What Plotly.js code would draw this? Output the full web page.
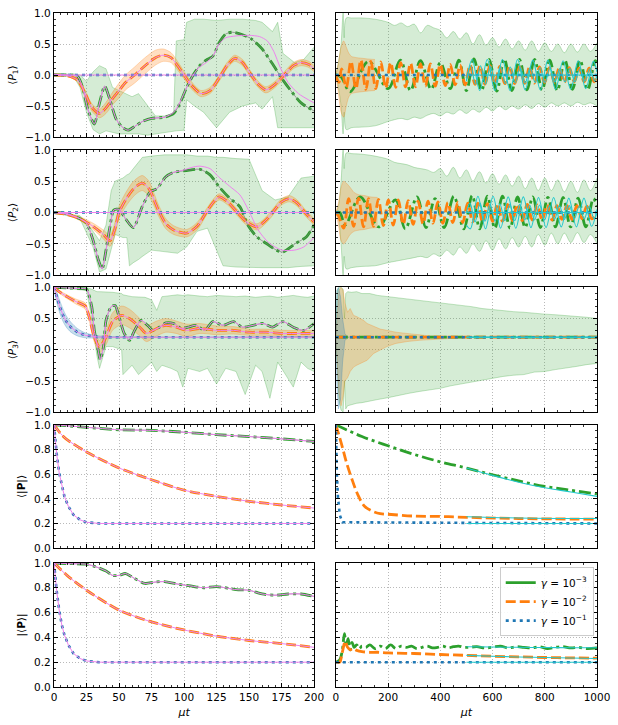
<!DOCTYPE html>
<html>
<head>
<meta charset="utf-8">
<script src="https://cdn.plot.ly/plotly-3.0.1.min.js"></script>
<style>html,body{margin:0;padding:0;background:#fff}</style>
</head>
<body>
<div id="chart" style="width:618px;height:725px"></div>
<script>
// ---------- left column, mu t in [0, 200] ----------
// <P1>
var g1L_t = [0, 10, 18, 22, 26, 31, 35, 39, 43, 48, 53, 57, 62, 68, 75, 85, 92, 97, 102, 107, 112, 117, 122, 127, 132, 137, 145, 152, 160, 168, 175, 182, 190, 200];
var g1L_y = [0, 0, -0.02, -0.2, -0.55, -0.79, -0.45, -0.18, -0.4, -0.72, -0.85, -0.89, -0.83, -0.75, -0.7, -0.68, -0.62, -0.45, -0.2, 0.0, 0.15, 0.24, 0.3, 0.52, 0.66, 0.69, 0.65, 0.58, 0.42, 0.18, -0.05, -0.25, -0.45, -0.58];
var v1L_t = [0, 10, 18, 22, 26, 31, 35, 39, 43, 48, 53, 57, 62, 68, 75, 85, 92, 97, 102, 107, 112, 117, 122, 127, 132, 140, 150, 158, 164, 169, 174, 180, 188, 200];
var v1L_y = [0, 0, -0.02, -0.2, -0.55, -0.79, -0.45, -0.18, -0.4, -0.72, -0.85, -0.89, -0.83, -0.75, -0.7, -0.68, -0.6, -0.43, -0.2, 0.0, 0.13, 0.2, 0.3, 0.5, 0.6, 0.63, 0.64, 0.62, 0.55, 0.38, 0.12, -0.12, -0.3, -0.45];
var o1L_t = [0, 10, 18, 24, 29, 35, 40, 45, 50, 55, 62, 70, 78, 84, 90, 95, 100, 105, 113, 120, 127, 133, 139, 145, 150, 157, 163, 170, 177, 184, 190, 196, 200];
var o1L_y = [0, -0.01, -0.08, -0.3, -0.52, -0.62, -0.53, -0.38, -0.25, -0.12, 0.0, 0.15, 0.28, 0.32, 0.28, 0.15, 0.0, -0.15, -0.3, -0.25, -0.05, 0.15, 0.27, 0.2, 0.05, -0.15, -0.24, -0.15, 0.0, 0.15, 0.2, 0.17, 0.1];
var o1L_s = [0, 0.01, 0.03, 0.05, 0.06, 0.07, 0.09, 0.1, 0.12, 0.12, 0.13, 0.13, 0.12, 0.1, 0.08, 0.07, 0.06, 0.06, 0.05, 0.05, 0.05, 0.05, 0.05, 0.05, 0.05, 0.05, 0.05, 0.05, 0.05, 0.05, 0.05, 0.05, 0.05];
var gb1L_t = [0, 15, 20, 25, 30, 35, 40, 45, 50, 60, 65, 72, 78, 85, 92, 94, 100, 102, 108, 115, 125, 135, 145, 155, 160, 168, 172, 176, 185, 192, 200];
var gb1L_up = [0, 0.02, 0.0, -0.1, 0.05, 0.15, 0.1, -0.2, -0.25, -0.35, -0.3, -0.5, -0.66, -0.66, -0.62, 0.55, 0.57, 0.85, 0.9, 0.9, 0.88, 0.9, 0.9, 0.88, 0.85, 0.7, 0.85, 0.35, 0.2, 0.25, 0.45];
var gb1L_lo = [0, -0.02, -0.2, -0.6, -0.88, -0.95, -0.9, -0.92, -0.95, -0.95, -0.95, -0.97, -0.95, -0.92, -0.9, -0.9, -0.89, -0.4, -0.5, -0.6, -0.85, -0.6, -0.5, -0.45, -0.55, -0.35, -0.85, -0.85, -0.85, -0.85, -0.85];
var zeroL_t = [0, 200];
var zeroL_y = [0, 0];

// <P2>
var g2L_t = [0, 10, 20, 25, 30, 34, 37, 40, 43, 46, 50, 55, 61, 68, 74, 79, 86, 92, 102, 112, 120, 127, 135, 143, 149, 156, 163, 171, 176, 186, 194, 200];
var g2L_y = [0, -0.02, -0.1, -0.17, -0.44, -0.75, -0.9, -0.6, -0.23, 0.04, 0.05, -0.1, -0.24, 0.1, 0.33, 0.38, 0.57, 0.64, 0.67, 0.69, 0.6, 0.41, 0.23, 0.09, -0.2, -0.39, -0.49, -0.6, -0.63, -0.49, -0.39, -0.2];
var v2L_t = [0, 10, 20, 25, 30, 34, 37, 40, 43, 46, 50, 55, 61, 68, 74, 79, 86, 92, 100, 106, 112, 120, 127, 135, 143, 150, 157, 165, 175, 185, 192, 200];
var v2L_y = [0, -0.02, -0.1, -0.17, -0.44, -0.75, -0.9, -0.6, -0.23, 0.04, 0.05, -0.1, -0.24, 0.1, 0.33, 0.38, 0.57, 0.64, 0.68, 0.72, 0.74, 0.7, 0.56, 0.42, 0.28, 0.02, -0.28, -0.48, -0.6, -0.6, -0.55, -0.4];
var o2L_t = [0, 10, 20, 30, 38, 43, 47, 50, 55, 60, 64, 68, 73, 77, 80, 86, 92, 102, 110, 117, 122, 127, 133, 141, 148, 156, 163, 168, 175, 181, 187, 193, 200];
var o2L_y = [0, -0.03, -0.1, -0.22, -0.35, -0.45, -0.25, 0.0, 0.2, 0.35, 0.43, 0.47, 0.38, 0.2, 0.05, -0.18, -0.28, -0.33, -0.22, 0.0, 0.15, 0.25, 0.18, 0.0, -0.15, -0.23, -0.12, 0.0, 0.17, 0.22, 0.15, 0.0, -0.15];
var o2L_s = [0, 0.01, 0.03, 0.05, 0.07, 0.09, 0.1, 0.1, 0.11, 0.12, 0.12, 0.12, 0.12, 0.1, 0.09, 0.08, 0.07, 0.06, 0.06, 0.05, 0.05, 0.05, 0.05, 0.05, 0.05, 0.05, 0.05, 0.05, 0.05, 0.05, 0.05, 0.05, 0.05];
var gb2L_t = [0, 20, 30, 35, 40, 44, 47, 53, 56, 58, 61, 65, 68, 75, 85, 95, 102, 110, 118, 125, 130, 140, 150, 155, 160, 170, 180, 190, 200];
var gb2L_up = [0, -0.05, -0.3, -0.45, -0.2, 0.35, 0.5, 0.55, 0.6, 0.62, 0.7, 0.8, 0.88, 0.9, 0.92, 0.92, 0.92, 0.9, 0.9, 0.88, 0.88, 0.86, 0.85, 0.6, 0.35, 0.2, 0.25, 0.55, 0.58];
var gb2L_lo = [0, -0.1, -0.55, -0.95, -0.9, -0.6, -0.35, -0.4, -0.4, -0.85, -0.8, -0.75, -0.7, -0.6, -0.62, -0.65, -0.55, -0.3, -0.25, -0.6, -0.85, -0.87, -0.88, -0.88, -0.88, -0.88, -0.88, -0.86, -0.85];

// <P3>
var g3L_t = [0, 10, 20, 25, 29, 31, 34, 35.5, 38, 40, 44, 47, 50, 54, 58, 62, 67, 72, 76, 81, 86, 92, 98, 103, 109, 116, 122, 130, 138, 145, 153, 161, 168, 176, 184, 192, 200];
var g3L_y = [1.0, 0.99, 0.98, 0.97, 0.69, 0.31, -0.01, -0.16, 0.04, 0.47, 0.69, 0.71, 0.53, 0.26, 0.15, 0.31, 0.47, 0.39, 0.31, 0.36, 0.43, 0.42, 0.34, 0.36, 0.39, 0.31, 0.45, 0.39, 0.45, 0.36, 0.39, 0.42, 0.36, 0.45, 0.36, 0.31, 0.42];
var o3L_t = [0, 4, 10, 17, 24, 27, 31, 35, 40, 45, 52, 58, 66, 71, 79, 86, 94, 102, 112, 125, 138, 150, 163, 176, 189, 200];
var o3L_y = [1.0, 0.93, 0.85, 0.77, 0.7, 0.53, 0.2, 0.05, 0.2, 0.45, 0.55, 0.5, 0.36, 0.26, 0.34, 0.39, 0.36, 0.31, 0.34, 0.31, 0.31, 0.28, 0.28, 0.26, 0.26, 0.26];
var o3L_s = [0, 0.02, 0.03, 0.04, 0.05, 0.06, 0.08, 0.1, 0.12, 0.14, 0.15, 0.15, 0.14, 0.13, 0.12, 0.11, 0.1, 0.1, 0.08, 0.07, 0.06, 0.05, 0.05, 0.05, 0.05, 0.05];
var b3L_t = [0, 2, 4.4, 7, 9.5, 13, 18, 24, 33, 45, 200];
var b3L_y = [1.0, 0.85, 0.69, 0.55, 0.45, 0.36, 0.28, 0.23, 0.205, 0.2, 0.2];
var b3L_s = [0, 0.08, 0.1, 0.1, 0.09, 0.08, 0.06, 0.04, 0.02, 0.01, 0.01];
var gb3L_t = [0, 25, 29, 33, 35, 38, 40, 45, 52, 53, 60, 65, 70, 75, 79, 83, 90, 95, 99, 103, 112, 118, 125, 132, 140, 147, 155, 160, 166, 172, 178, 184, 190, 195, 200];
var gb3L_up = [1.0, 1.0, 0.97, 0.93, 0.93, 0.93, 0.93, 0.92, 0.9, 0.88, 0.85, 0.85, 0.84, 0.8, 0.63, 0.85, 0.87, 0.88, 0.87, 0.88, 0.86, 0.85, 0.87, 0.86, 0.85, 0.86, 0.84, 0.85, 0.86, 0.84, 0.85, 0.87, 0.85, 0.84, 0.86];
var gb3L_lo = [1.0, 0.95, 0.5, -0.1, -0.3, -0.1, 0.05, 0.05, 0.0, -0.4, -0.25, -0.4, -0.3, -0.2, -0.35, -0.25, -0.3, -0.35, -0.6, -0.3, -0.35, -0.3, -0.55, -0.3, -0.35, -0.72, -0.25, -0.35, -0.78, -0.2, -0.4, -0.6, -0.2, -0.3, -0.35];

// <|P|>
var g4L_t = [0, 25, 50, 75, 100, 125, 150, 175, 200];
var g4L_y = [1.0, 0.98, 0.96, 0.955, 0.94, 0.92, 0.905, 0.886, 0.865];
var o4L_t = [0, 5, 10, 25, 50, 75, 100, 125, 150, 175, 200];
var o4L_y = [1.0, 0.93, 0.88, 0.78, 0.65, 0.555, 0.47, 0.42, 0.38, 0.35, 0.325];
var b4L_t = [0, 1, 2, 4, 6, 8, 11, 15, 20, 25, 35, 200];
var b4L_y = [1.0, 0.88, 0.77, 0.61, 0.5, 0.42, 0.34, 0.27, 0.23, 0.21, 0.2, 0.2];

// |<P>|
var g5L_t = [0, 10, 25, 32, 40, 45, 50, 55, 62, 70, 77, 85, 95, 105, 115, 125, 140, 150, 160, 170, 180, 190, 200];
var g5L_y = [1.0, 0.995, 0.99, 0.97, 0.935, 0.9, 0.9, 0.915, 0.875, 0.835, 0.845, 0.85, 0.83, 0.815, 0.8, 0.81, 0.785, 0.78, 0.75, 0.74, 0.75, 0.75, 0.73];
var o5L_t = [0, 10, 25, 50, 75, 100, 125, 150, 175, 200];
var o5L_y = [1.0, 0.9, 0.78, 0.62, 0.525, 0.46, 0.41, 0.375, 0.35, 0.32];
var b5L_t = [0, 1, 2, 4, 6, 8, 11, 15, 20, 25, 35, 200];
var b5L_y = [1.0, 0.87, 0.78, 0.62, 0.5, 0.42, 0.34, 0.27, 0.23, 0.21, 0.2, 0.2];

// ---------- right column, mu t in [0, 1000] ----------
// <P1>
var g1R_t = [0, 20, 55, 125, 200, 247, 286, 324, 365, 400, 438, 471, 500, 529, 558, 587, 616, 645, 674, 703, 732, 761, 790, 819, 848, 877, 906, 935, 964, 993, 1000];
var g1R_y = [0, -0.03, -0.27, 0.22, -0.22, 0.24, -0.25, 0.23, -0.23, 0.2, -0.22, 0.24, -0.25, 0.26, -0.25, 0.25, -0.26, 0.26, -0.25, 0.25, -0.24, 0.25, -0.24, 0.24, -0.25, 0.24, -0.23, 0.24, -0.24, 0.23, 0.2];
var c1gR_t = [500, 522, 551, 580, 609, 638, 667, 696, 725, 754, 783, 812, 841, 870, 899, 928, 957, 986, 1000];
var c1gR_y = [-0.1, 0.25, -0.25, 0.25, -0.25, 0.25, -0.25, 0.25, -0.24, 0.24, -0.24, 0.24, -0.23, 0.23, -0.23, 0.23, -0.22, 0.22, 0.05];
var o1R_t = [0, 12, 22, 40, 58, 77, 96, 115, 134, 153, 172, 191, 210, 229, 248, 267, 286, 305, 324, 343, 362, 381, 400, 419, 438, 457, 476, 495, 514, 533, 552, 571, 590, 609, 628, 647, 666, 685, 704, 723, 742, 761, 780, 799, 818, 837, 856, 875, 894, 913, 932, 951, 970, 989, 1000];
var o1R_y = [0, -0.12, 0.1, -0.2, 0.22, -0.22, 0.24, -0.23, 0.22, -0.22, 0.21, -0.21, 0.2, -0.2, 0.2, -0.19, 0.19, -0.19, 0.18, -0.18, 0.18, -0.18, 0.17, -0.17, 0.17, -0.16, 0.16, -0.16, 0.16, -0.15, 0.15, -0.15, 0.15, -0.14, 0.14, -0.14, 0.14, -0.14, 0.13, -0.13, 0.13, -0.13, 0.13, -0.12, 0.12, -0.12, 0.12, -0.12, 0.12, -0.11, 0.11, -0.11, 0.11, -0.11, 0.0];
var c1oR_t = [500, 516, 535, 554, 573, 592, 611, 630, 649, 668, 687, 706, 725, 744, 763, 782, 801, 820, 839, 858, 877, 896, 915, 934, 953, 972, 991, 1000];
var c1oR_y = [-0.1, 0.15, -0.15, 0.15, -0.15, 0.14, -0.14, 0.14, -0.14, 0.13, -0.13, 0.13, -0.13, 0.12, -0.12, 0.12, -0.12, 0.12, -0.11, 0.11, -0.11, 0.11, -0.11, 0.1, -0.1, 0.1, -0.1, 0.0];
var gbR_t = [0, 10, 20, 28, 32, 40, 60, 100, 150, 200, 225, 250, 275, 300, 325, 350, 375, 400, 425, 450, 475, 500, 525, 550, 575, 600, 625, 650, 675, 700, 725, 750, 775, 800, 825, 850, 875, 900, 925, 950, 975, 1000];
var gb1R_up = [0, 0.2, 0.5, 1.0, 0.6, 0.92, 0.92, 0.92, 0.9, 0.85, 0.8, 0.84, 0.78, 0.82, 0.68, 0.8, 0.76, 0.72, 0.6, 0.7, 0.58, 0.68, 0.5, 0.65, 0.48, 0.6, 0.45, 0.58, 0.42, 0.55, 0.4, 0.55, 0.38, 0.52, 0.38, 0.5, 0.36, 0.5, 0.37, 0.5, 0.38, 0.52];
var gb1R_lo = [0, -0.2, -0.5, -0.95, -0.6, -0.88, -0.85, -0.84, -0.82, -0.75, -0.72, -0.7, -0.72, -0.68, -0.7, -0.65, -0.62, -0.66, -0.6, -0.63, -0.56, -0.62, -0.55, -0.6, -0.52, -0.58, -0.5, -0.56, -0.5, -0.55, -0.48, -0.54, -0.46, -0.52, -0.45, -0.5, -0.45, -0.5, -0.44, -0.48, -0.45, -0.5];
var ob1R_t = [0, 10, 20, 30, 40, 50, 60, 80, 100, 120, 150];
var ob1R_up = [0, 0.2, 0.45, 0.55, 0.45, 0.35, 0.3, 0.28, 0.27, 0.26, 0.25];
var ob1R_lo = [0, -0.3, -0.6, -0.68, -0.5, -0.35, -0.3, -0.28, -0.27, -0.26, -0.25];
var zeroR_t = [0, 1000];
var zeroR_y = [0, 0];
var zeroC_t = [500, 1000];
var zeroC_y = [0, 0];

// <P2>
var g2R_t = [0, 15, 36, 93, 164, 228, 266, 311, 345, 380, 415, 452, 490, 522, 551, 580, 609, 638, 667, 696, 725, 754, 783, 812, 841, 870, 899, 928, 957, 986, 1000];
var g2R_y = [0, 0.0, -0.2, 0.25, -0.23, 0.2, -0.26, 0.25, -0.24, 0.22, -0.24, 0.26, -0.26, 0.27, -0.26, 0.26, -0.25, 0.26, -0.25, 0.25, -0.24, 0.25, -0.24, 0.24, -0.23, 0.24, -0.23, 0.23, -0.23, 0.22, 0.1];
var c2gR_t = [500, 515, 544, 573, 602, 631, 660, 689, 718, 747, 776, 805, 834, 863, 892, 921, 950, 979, 1000];
var c2gR_y = [-0.2, -0.26, 0.26, -0.26, 0.26, -0.25, 0.25, -0.25, 0.25, -0.24, 0.24, -0.24, 0.24, -0.23, 0.23, -0.23, 0.23, -0.22, 0.05];
var o2R_t = [0, 10, 30, 49, 68, 87, 106, 125, 144, 163, 182, 201, 220, 239, 258, 277, 296, 315, 334, 353, 372, 391, 410, 429, 448, 467, 486, 505, 524, 543, 562, 581, 600, 619, 638, 657, 676, 695, 714, 733, 752, 771, 790, 809, 828, 847, 866, 885, 904, 923, 942, 961, 980, 1000];
var o2R_y = [0, -0.05, -0.25, 0.22, -0.22, 0.23, -0.23, 0.22, -0.22, 0.21, -0.21, 0.2, -0.2, 0.2, -0.19, 0.19, -0.19, 0.18, -0.18, 0.18, -0.17, 0.17, -0.17, 0.16, -0.16, 0.16, -0.16, 0.15, -0.15, 0.15, -0.15, 0.14, -0.14, 0.14, -0.14, 0.13, -0.13, 0.13, -0.13, 0.13, -0.12, 0.12, -0.12, 0.12, -0.12, 0.11, -0.11, 0.11, -0.11, 0.11, -0.1, 0.1, -0.1, 0.0];
var c2oR_t = [500, 514, 533, 552, 571, 590, 609, 628, 647, 666, 685, 704, 723, 742, 761, 780, 799, 818, 837, 856, 875, 894, 913, 932, 951, 970, 989, 1000];
var c2oR_y = [0.0, 0.15, -0.15, 0.15, -0.14, 0.14, -0.14, 0.14, -0.13, 0.13, -0.13, 0.13, -0.12, 0.12, -0.12, 0.12, -0.12, 0.11, -0.11, 0.11, -0.11, 0.11, -0.1, 0.1, -0.1, 0.1, -0.1, 0.0];
var gb2R_up = [0, 0.1, 0.5, 1.0, 0.7, 0.95, 0.94, 0.93, 0.9, 0.85, 0.8, 0.78, 0.76, 0.72, 0.7, 0.68, 0.64, 0.7, 0.58, 0.72, 0.55, 0.68, 0.5, 0.65, 0.47, 0.62, 0.45, 0.6, 0.42, 0.58, 0.38, 0.55, 0.35, 0.55, 0.35, 0.52, 0.33, 0.5, 0.32, 0.52, 0.35, 0.55];
var gb2R_lo = [0, -0.1, -0.5, -1.0, -0.7, -0.9, -0.88, -0.86, -0.85, -0.8, -0.78, -0.76, -0.74, -0.72, -0.7, -0.72, -0.66, -0.7, -0.6, -0.68, -0.55, -0.65, -0.5, -0.62, -0.45, -0.6, -0.42, -0.58, -0.4, -0.55, -0.38, -0.55, -0.35, -0.52, -0.33, -0.5, -0.33, -0.48, -0.32, -0.48, -0.35, -0.5];
var ob2R_t = [0, 10, 20, 30, 40, 55, 70, 90, 110, 130, 160];
var ob2R_up = [0, 0.15, 0.4, 0.5, 0.47, 0.4, 0.32, 0.28, 0.27, 0.25, 0.24];
var ob2R_lo = [0, -0.2, -0.45, -0.5, -0.45, -0.35, -0.3, -0.28, -0.27, -0.25, -0.24];

// <P3>
var flat3R_t = [0, 1000];
var flat3R_y = [0.2, 0.2];
var flat3C_t = [500, 1000];
var flat3C_y = [0.2, 0.2];
var gb3R_t = [0, 5, 12, 20, 28, 33, 38, 45, 60, 80, 100, 130, 160, 200, 240, 280, 320, 360, 400, 440, 480, 520, 560, 600, 640, 680, 720, 760, 800, 840, 880, 920, 960, 1000];
var gb3R_up = [0.25, 0.95, 1.0, 1.0, 0.97, 0.5, 0.9, 0.93, 0.92, 0.93, 0.9, 0.9, 0.87, 0.85, 0.84, 0.82, 0.8, 0.78, 0.75, 0.73, 0.71, 0.69, 0.66, 0.64, 0.63, 0.61, 0.6, 0.58, 0.57, 0.56, 0.55, 0.53, 0.52, 0.5];
var gb3R_lo = [0.15, -0.3, -0.8, -0.97, -1.0, -0.5, -0.95, -0.9, -0.88, -0.86, -0.85, -0.82, -0.8, -0.77, -0.73, -0.7, -0.67, -0.65, -0.62, -0.58, -0.55, -0.52, -0.48, -0.45, -0.43, -0.41, -0.4, -0.36, -0.35, -0.32, -0.3, -0.27, -0.24, -0.22];
var ob3R_t = [0, 5, 12, 20, 28, 35, 45, 55, 68, 80, 94, 106, 120, 145, 170, 196, 230, 273, 320, 362, 420, 480, 600, 800, 1000];
var ob3R_up = [0.2, 0.6, 0.95, 1.0, 0.95, 0.75, 0.6, 0.66, 0.55, 0.53, 0.5, 0.47, 0.42, 0.37, 0.33, 0.31, 0.28, 0.26, 0.24, 0.22, 0.215, 0.21, 0.205, 0.205, 0.205];
var ob3R_lo = [0.2, -0.2, -0.7, -0.9, -0.75, -0.5, -0.45, -0.35, -0.28, -0.25, -0.22, -0.2, -0.17, -0.06, 0.0, 0.05, 0.1, 0.13, 0.15, 0.16, 0.18, 0.19, 0.195, 0.195, 0.195];
var bb3R_t = [0, 4, 10, 18, 26, 35, 50];
var bb3R_up = [0.2, 0.95, 1.0, 0.85, 0.5, 0.25, 0.2];
var bb3R_lo = [0.2, -0.6, -0.95, -0.8, -0.2, 0.15, 0.2];

// <|P|>
var g4R_t = [0, 100, 200, 300, 400, 500, 600, 700, 800, 900, 1000];
var g4R_y = [1.0, 0.905, 0.83, 0.76, 0.7, 0.65, 0.595, 0.545, 0.5, 0.47, 0.44];
var c4gR_t = [500, 600, 700, 800, 900, 1000];
var c4gR_y = [0.65, 0.59, 0.535, 0.49, 0.455, 0.42];
var o4R_t = [0, 10, 25, 40, 60, 85, 110, 140, 170, 200, 300, 400, 500, 700, 1000];
var o4R_y = [1.0, 0.93, 0.82, 0.7, 0.57, 0.43, 0.34, 0.3, 0.28, 0.275, 0.26, 0.257, 0.25, 0.24, 0.235];
var c4oR_t = [500, 700, 1000];
var c4oR_y = [0.255, 0.245, 0.24];
var b4R_t = [0, 2, 4, 8, 15, 25, 1000];
var b4R_y = [1.0, 0.77, 0.6, 0.42, 0.27, 0.21, 0.2];

// |<P>|
var g5R_t = [0, 15, 25, 33, 40, 47, 55, 62, 70, 80, 90, 100, 115, 130, 150, 170, 190, 210, 230, 250, 270, 290, 310, 330, 350, 370, 390, 410, 430, 450, 470, 490, 510, 540, 570, 600, 630, 660, 690, 720, 750, 780, 810, 840, 870, 900, 930, 960, 1000];
var g5R_y = [0.2, 0.22, 0.3, 0.43, 0.33, 0.39, 0.3, 0.36, 0.32, 0.34, 0.31, 0.33, 0.32, 0.34, 0.31, 0.33, 0.31, 0.34, 0.31, 0.33, 0.32, 0.33, 0.31, 0.32, 0.33, 0.315, 0.32, 0.33, 0.315, 0.325, 0.33, 0.32, 0.32, 0.325, 0.315, 0.32, 0.33, 0.315, 0.325, 0.32, 0.315, 0.325, 0.31, 0.32, 0.325, 0.315, 0.32, 0.31, 0.315];
var o5R_t = [0, 15, 22, 30, 36, 45, 55, 65, 80, 100, 130, 160, 200, 300, 400, 500, 600, 700, 800, 900, 1000];
var o5R_y = [0.2, 0.2, 0.25, 0.33, 0.37, 0.32, 0.3, 0.31, 0.295, 0.285, 0.28, 0.28, 0.275, 0.27, 0.262, 0.255, 0.248, 0.243, 0.238, 0.235, 0.232];
var c5_t = [500, 600, 700, 800, 900, 1000];
var c5g_y = [0.325, 0.322, 0.32, 0.318, 0.317, 0.316];
var c5o_y = [0.255, 0.248, 0.242, 0.238, 0.234, 0.23];

var legendNames = ['<i>γ</i> = 10<sup>−3</sup>', '<i>γ</i> = 10<sup>−2</sup>', '<i>γ</i> = 10<sup>−1</sup>'];
var yTitles = ['⟨<i>P</i><sub>1</sub>⟩', '⟨<i>P</i><sub>2</sub>⟩', '⟨<i>P</i><sub>3</sub>⟩', '⟨|<b>P</b>|⟩', '|⟨<b>P</b>⟩|'];

// ---------- styles ----------
var GREEN = '#2ca02c', ORANGE = '#ff7f0e', BLUE = '#1f77b4';
var VIOLET = '#ee82ee', CYAN = '#22c8cc', GREY = '#7a7a7a';
var GDASH = '12px,4px,3px,4px', ODASH = '10px,4px', BDASH = '3px,4px';
var GFILL = 'rgba(44,160,44,0.2)', GEDGE = 'rgba(44,160,44,0.35)';
var OFILL = 'rgba(255,127,14,0.25)', OEDGE = 'rgba(255,127,14,0.35)';
var BFILL = 'rgba(31,119,180,0.25)', BEDGE = 'rgba(31,119,180,0.3)';

var data = [];

function axn(p, k) { return k === 1 ? p : p + k; }

function addLine(k, t, y, color, width, dash, smooth) {
  data.push({
    type: 'scatter', mode: 'lines', x: t, y: y,
    xaxis: axn('x', k), yaxis: axn('y', k),
    line: {color: color, width: width, dash: dash || 'solid',
           shape: smooth ? 'spline' : 'linear', smoothing: smooth || 0},
    showlegend: false, hoverinfo: 'skip'
  });
}

function addBand(k, t, lo, up, fill, edge, smooth) {
  var shape = smooth ? 'spline' : 'linear';
  data.push({
    type: 'scatter', mode: 'lines', x: t, y: lo,
    xaxis: axn('x', k), yaxis: axn('y', k),
    line: {color: edge, width: 0.8, shape: shape, smoothing: smooth || 0},
    showlegend: false, hoverinfo: 'skip'
  });
  data.push({
    type: 'scatter', mode: 'lines', x: t, y: up,
    xaxis: axn('x', k), yaxis: axn('y', k),
    line: {color: edge, width: 0.8, shape: shape, smoothing: smooth || 0},
    fill: 'tonexty', fillcolor: fill,
    showlegend: false, hoverinfo: 'skip'
  });
}

function spreadBand(k, t, y, s, fill, edge) {
  var lo = y.map(function(v, i) { return v - s[i]; });
  var up = y.map(function(v, i) { return v + s[i]; });
  addBand(k, t, lo, up, fill, edge, 0.8);
}

// left column: thick lines, grey twin for gamma=1e-3, violet reference on top
function leftPanel(k, g, v, o, b) {
  addLine(k, g[0], g[1], GREEN, 2.8, GDASH, 0.7);
  addLine(k, g[0], g[1], GREY, 0.7, 'solid', 0.7);
  addLine(k, o[0], o[1], ORANGE, 2.8, ODASH, 0.7);
  addLine(k, b[0], b[1], BLUE, 2.6, BDASH, 0);
  addLine(k, v[0], v[1], VIOLET, 1.0, 'solid', 0.7);
  addLine(k, o[0], o[1], VIOLET, 1.0, 'solid', 0.7);
  addLine(k, b[0], b[1], VIOLET, 1.0, 'solid', 0);
}

function rightPanel(k, g, o, b, cg, co, cb) {
  addLine(k, g[0], g[1], GREEN, 2.8, GDASH, 1);
  addLine(k, o[0], o[1], ORANGE, 2.8, ODASH, 1);
  addLine(k, b[0], b[1], BLUE, 2.6, BDASH, 0);
  addLine(k, cg[0], cg[1], CYAN, 1.1, 'solid', 1);
  addLine(k, co[0], co[1], CYAN, 1.1, 'solid', 1);
  addLine(k, cb[0], cb[1], CYAN, 1.1, 'solid', 0);
}

// row 1
addBand(1, gb1L_t, gb1L_lo, gb1L_up, GFILL, GEDGE);
spreadBand(1, o1L_t, o1L_y, o1L_s, OFILL, OEDGE);
leftPanel(1, [g1L_t, g1L_y], [v1L_t, v1L_y], [o1L_t, o1L_y], [zeroL_t, zeroL_y]);
addBand(2, gbR_t, gb1R_lo, gb1R_up, GFILL, GEDGE, 1);
addBand(2, ob1R_t, ob1R_lo, ob1R_up, OFILL, OEDGE, 0.8);
rightPanel(2, [g1R_t, g1R_y], [o1R_t, o1R_y], [zeroR_t, zeroR_y], [c1gR_t, c1gR_y], [c1oR_t, c1oR_y], [zeroC_t, zeroC_y]);

// row 2
addBand(3, gb2L_t, gb2L_lo, gb2L_up, GFILL, GEDGE);
spreadBand(3, o2L_t, o2L_y, o2L_s, OFILL, OEDGE);
leftPanel(3, [g2L_t, g2L_y], [v2L_t, v2L_y], [o2L_t, o2L_y], [zeroL_t, zeroL_y]);
addBand(4, gbR_t, gb2R_lo, gb2R_up, GFILL, GEDGE, 1);
addBand(4, ob2R_t, ob2R_lo, ob2R_up, OFILL, OEDGE, 0.8);
rightPanel(4, [g2R_t, g2R_y], [o2R_t, o2R_y], [zeroR_t, zeroR_y], [c2gR_t, c2gR_y], [c2oR_t, c2oR_y], [zeroC_t, zeroC_y]);

// row 3
addBand(5, gb3L_t, gb3L_lo, gb3L_up, GFILL, GEDGE);
spreadBand(5, o3L_t, o3L_y, o3L_s, OFILL, OEDGE);
spreadBand(5, b3L_t, b3L_y, b3L_s, BFILL, BEDGE);
leftPanel(5, [g3L_t, g3L_y], [g3L_t, g3L_y], [o3L_t, o3L_y], [b3L_t, b3L_y]);
addBand(6, gb3R_t, gb3R_lo, gb3R_up, GFILL, GEDGE);
addBand(6, ob3R_t, ob3R_lo, ob3R_up, OFILL, OEDGE);
addBand(6, bb3R_t, bb3R_lo, bb3R_up, BFILL, BEDGE);
rightPanel(6, [flat3R_t, flat3R_y], [flat3R_t, flat3R_y], [flat3R_t, flat3R_y], [flat3C_t, flat3C_y], [flat3C_t, flat3C_y], [flat3C_t, flat3C_y]);

// row 4
leftPanel(7, [g4L_t, g4L_y], [g4L_t, g4L_y], [o4L_t, o4L_y], [b4L_t, b4L_y]);
rightPanel(8, [g4R_t, g4R_y], [o4R_t, o4R_y], [b4R_t, b4R_y], [c4gR_t, c4gR_y], [c4oR_t, c4oR_y], [flat3C_t, flat3C_y]);

// row 5
leftPanel(9, [g5L_t, g5L_y], [g5L_t, g5L_y], [o5L_t, o5L_y], [b5L_t, b5L_y]);
rightPanel(10, [g5R_t, g5R_y], [o5R_t, o5R_y], [flat3R_t, flat3R_y], [c5_t, c5g_y], [c5_t, c5o_y], [flat3C_t, flat3C_y]);

// legend entries
[[GREEN, 'solid'], [ORANGE, ODASH], [BLUE, BDASH]].forEach(function(st, i) {
  data.push({type: 'scatter', mode: 'lines', x: [null], y: [null], xaxis: 'x10', yaxis: 'y10',
    name: legendNames[i], line: {color: st[0], width: 2.8, dash: st[1]}, hoverinfo: 'skip'});
});

// ---------- layout ----------
var rowDomains = [[0.816, 1], [0.611, 0.797], [0.408, 0.593], [0.206, 0.389], [0, 0.184]];

function axisBase() {
  return {
    showline: true, mirror: 'allticks', linecolor: 'black', linewidth: 1.2,
    ticks: 'inside', ticklen: 4, tickwidth: 1, tickcolor: 'black',
    showgrid: true, gridcolor: '#a8a8a8', griddash: '1px,2px', gridwidth: 0.8,
    zeroline: false, tick0: 0,
    tickfont: {family: 'DejaVu Sans', size: 10.5, color: 'black'},
    minor: {ticks: 'inside', ticklen: 2, tickwidth: 0.8, tickcolor: 'black', showgrid: false}
  };
}

var layout = {
  width: 618, height: 725,
  margin: {l: 54, r: 21, t: 13, b: 38},
  paper_bgcolor: 'white', plot_bgcolor: 'white',
  font: {family: 'DejaVu Sans', size: 10.5, color: 'black'},
  showlegend: true,
  legend: {
    x: 0.994, xanchor: 'right', y: 0.178, yanchor: 'top', traceorder: 'normal',
    bgcolor: 'rgba(255,255,255,0.9)', bordercolor: '#cccccc', borderwidth: 1,
    font: {family: 'DejaVu Sans', size: 10.5}, tracegroupgap: 0
  }
};

for (var r = 1; r <= 5; r++) {
  for (var c = 1; c <= 2; c++) {
    var k = (r - 1) * 2 + c;
    var xa = axisBase(), ya = axisBase();
    xa.domain = c === 1 ? [0, 0.479] : [0.519, 1];
    xa.anchor = axn('y', k);
    xa.range = c === 1 ? [0, 200] : [0, 1000];
    xa.dtick = c === 1 ? 25 : 200;
    xa.minor.dtick = c === 1 ? 5 : 50;
    xa.showticklabels = (r === 5);
    if (r === 5) xa.title = {text: '<i>μt</i>', font: {family: 'DejaVu Sans', size: 11}, standoff: 6};
    ya.domain = rowDomains[r - 1];
    ya.anchor = axn('x', k);
    ya.range = r <= 3 ? [-1, 1] : [0, 1];
    ya.dtick = r <= 3 ? 0.5 : 0.2;
    ya.minor.dtick = r <= 3 ? 0.1 : 0.05;
    ya.tickformat = '.1f';
    ya.showticklabels = (c === 1);
    if (c === 1) ya.title = {text: yTitles[r - 1], font: {family: 'DejaVu Sans', size: 10.5}, standoff: 6};
    layout[axn('xaxis', k)] = xa;
    layout[axn('yaxis', k)] = ya;
  }
}

Plotly.newPlot('chart', data, layout, {staticPlot: true, displayModeBar: false});
</script>
</body>
</html>
